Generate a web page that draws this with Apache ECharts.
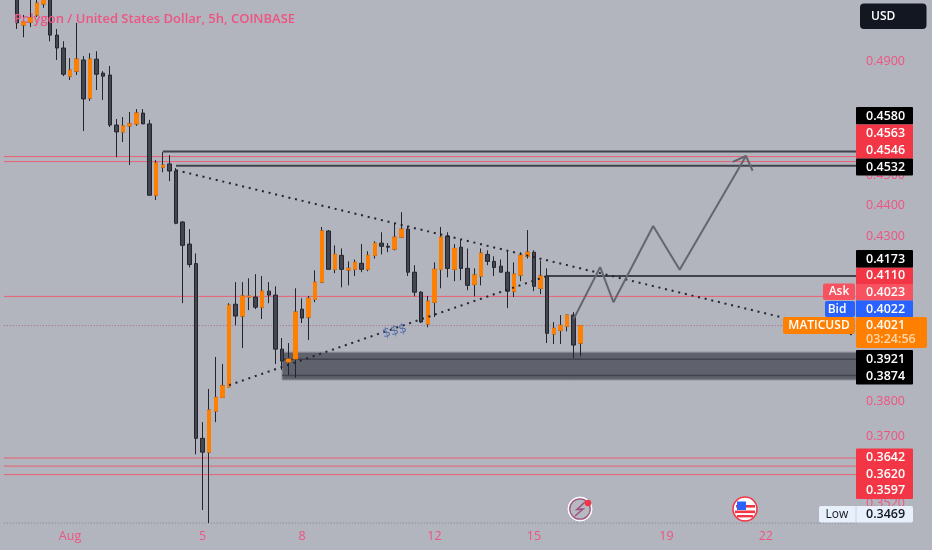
<!DOCTYPE html>
<html><head><meta charset="utf-8">
<style>html,body{margin:0;padding:0;background:#b2b5be}#c{width:932px;height:550px}</style>
<script src="https://cdn.jsdelivr.net/npm/echarts@6/dist/echarts.min.js"></script>
</head><body><div id="c"></div>
<script>
// each row: open, close, low, high of one 5h candle
const candles = [
[.5180,.5043,.5020,.5200],[.5035,.5046,.4989,.5073],[.5046,.5062,.5027,.5200],[.5073,.5118,.5065,.5180],
[.5115,.5135,.5100,.5180],[.5160,.4997,.4974,.5200],[.4997,.4949,.4905,.5020],[.4949,.4853,.4846,.4974],
[.4846,.4868,.4832,.4912],[.4864,.4908,.4850,.5043],[.4905,.4764,.4651,.4919],[.4767,.4908,.4757,.4930],
[.4908,.4853,.4796,.4937],[.4857,.4846,.4760,.4864],[.4850,.4672,.4665,.4883],[.4672,.4648,.4561,.4693],
[.4648,.4669,.4613,.4700],[.4669,.4676,.4534,.4718],[.4676,.4714,.4669,.4728],[.4714,.4676,.4676,.4728],
[.4676,.4433,.4433,.4690],[.4433,.4541,.4417,.4551],[.4527,.4534,.4510,.4578],[.4538,.4514,.4480,.4568],
[.4514,.4341,.4338,.4524],[.4345,.4270,.4089,.4348],[.4274,.4209,.4200,.4322],[.4212,.3696,.3652,.4244],
[.3696,.3658,.3503,.3741],[.3658,.3775,.3469,.3835],[.3772,.3811,.3741,.3928],[.3811,.3844,.3811,.3907],
[.3841,.4083,.3841,.4089],[.4086,.4050,.4022,.4154],[.4050,.4111,.3954,.4154],[.4108,.4111,.4068,.4166],
[.4108,.4077,.4071,.4179],[.4077,.4126,.4041,.4173],[.4126,.4114,.4089,.4154],[.4114,.3951,.3907,.4141],
[.3951,.3916,.3890,.3984],[.3913,.3922,.3875,.3969],[.3922,.4062,.3867,.4135],[.4071,.4044,.4029,.4104],
[.4047,.4104,.3978,.4111],[.4101,.4154,.4092,.4191],[.4154,.4316,.4151,.4329],[.4316,.4194,.4194,.4319],
[.4194,.4241,.4182,.4270],[.4238,.4194,.4138,.4260],[.4192,.4197,.4144,.4219],[.4194,.4216,.4173,.4225],
[.4213,.4194,.4185,.4274],[.4194,.4238,.4188,.4251],[.4238,.4277,.4228,.4283],[.4277,.4267,.4241,.4312],
[.4267,.4264,.4248,.4277],[.4258,.4296,.4254,.4341],[.4296,.4322,.4293,.4377],[.4322,.4185,.4173,.4332],
[.4185,.4123,.4110,.4207],[.4123,.4032,.4029,.4126],[.4026,.4095,.4016,.4111],[.4092,.4194,.4047,.4216],
[.4194,.4296,.4135,.4329],[.4300,.4197,.4169,.4312],[.4194,.4260,.4157,.4274],[.4264,.4197,.4160,.4287],
[.4197,.4144,.4129,.4260],[.4147,.4176,.4110,.4197],[.4173,.4245,.4144,.4260],[.4241,.4219,.4207,.4254],
[.4219,.4200,.4173,.4235],[.4204,.4185,.4185,.4225],[.4185,.4126,.4074,.4254],[.4126,.4179,.4108,.4216],
[.4176,.4238,.4157,.4248],[.4235,.4248,.4228,.4319],[.4248,.4141,.4126,.4254],[.4135,.4173,.4117,.4222],
[.4173,.3998,.3969,.4197],[.3996,.4013,.3966,.4032],[.4007,.4022,.3966,.4053],[.4019,.4053,.4004,.4053],
[.4053,.3963,.3925,.4062],[.3969,.4021,.3930,.4021]
];
const leadingSlots = 2, totalSlots = 130;
const dayLabels = {8:'Aug',28:'5',43:'8',63:'12',78:'15',98:'19',113:'22'};
const yTicks = [0.49,0.45,0.44,0.43,0.38,0.37,0.352];
const redLevels = [0.4563,0.4546,0.4110,0.3642,0.3620,0.3597];
const resistanceTop = 0.4580, resistanceBottom = 0.4532, breakLevel = 0.4173;
const zoneEdges = [0.3942,0.3861], zoneLines = [0.3921,0.3874];
const lastPrice = 0.4021, lowPrice = 0.3469;
const upperTrend = [[26,0.4517],[129,0.3990]];
const lowerTrend = [[34,0.3846],[82,0.4173]];
const projection = [[86,0.4041],[90,0.4201],[92,0.4092],[98,0.4332],[102,0.4193],[112,0.4565]];
const arrowHead = [[109.5,0.4545],[112,0.4565],[113,0.4515]];
const priceTags = ['0.4580','0.4563','0.4546','0.4532','0.4173','0.4110','0.4023','0.4022','0.4021','0.3921','0.3874','0.3642','0.3620','0.3597','0.3469'];

const title = 'Polygon / United States Dollar, 5h, COINBASE';
const PINK='#ef5380', RED='#f23645', BLACK='#000000', BG='#b2b5be';
const UI='"Open Sans","Noto Sans",sans-serif';

const categories = Array.from({length:totalSlots},(_,i)=>dayLabels[i-leadingSlots]||'');
const pad = Array(leadingSlots).fill('-');
const allCandles = pad.map(()=>['-','-','-','-']).concat(candles);
const upBodies = pad.map(()=>['-','-','-','-']).concat(candles.map(c=>{
  const [o,cl]=c; return cl>o?[o,cl,o,cl]:['-','-','-','-'];}));

function line(name,data,color,width,type,z){
  return {type:'line',name,data,z,silent:true,symbol:'none',animation:false,
    lineStyle:{color,width,type:type||'solid',cap:'butt'}};
}
const series=[
  {type:'line',name:'zone',z:1,silent:true,symbol:'none',data:[],animation:false,
   markArea:{silent:true,itemStyle:{color:'#5f616c',borderColor:'#8a8c96',borderWidth:1},
     data:[[{xAxis:42,yAxis:zoneEdges[0]},{xAxis:129,yAxis:zoneEdges[1]}]]}},
  ...zoneLines.map((v,i)=>line('zoneLine'+i,[[42,v],[129,v]],'#41434d',1.6,null,2)),
  ...redLevels.map((v,i)=>line('red'+i,[[0,v],[129,v]],'#ec5f72',1,null,2)),
  line('lastPrice',[[0,lastPrice],[129,lastPrice]],'#a8628e',1,[1,2],2),
  line('low',[[0,lowPrice],[129,lowPrice]],'#7c7f88',1,[1,2],2),
  line('resTop',[[24,resistanceTop],[129,resistanceTop]],'#41434b',2,null,3),
  line('resBottom',[[26,resistanceBottom],[129,resistanceBottom]],'#41434b',2,null,3),
  line('break',[[82,breakLevel],[129,breakLevel]],'#41434b',2,null,3),
  {type:'candlestick',name:'wicks',data:allCandles,barWidth:4,z:5,silent:true,animation:false,
   itemStyle:{color:'#434651',color0:'#434651',borderColor:'#23252d',borderColor0:'#23252d',borderWidth:1}},
  {type:'candlestick',name:'up',data:upBodies,barWidth:4,z:6,silent:true,animation:false,
   itemStyle:{color:'#ff7f00',color0:'#ff7f00',borderColor:'#ff7f00',borderColor0:'#ff7f00',borderWidth:1}},
  line('upper',upperTrend,'#23252d',2,[2,4.8],7),
  line('lower',lowerTrend,'#23252d',2,[2,4.8],7),
  line('projection',projection,'#63666f',2,null,7),
  line('arrow',arrowHead,'#63666f',2,null,7),
  {type:'scatter',name:'note',symbolSize:0,z:8,silent:true,animation:false,data:[[59,0.4004]],
   label:{show:true,position:'inside',formatter:'$$$',rotate:14,color:'#3f5ba6',fontSize:13,fontFamily:'"DejaVu Sans"'}}
];

// overlay tags ------------------------------------------------------
const g=[];
function box(x,y,w,h,fill,r){g.push({type:'rect',z:100,silent:true,shape:{x,y,width:w,height:h,r:r||0},style:{fill}});}
function txt(s,x,y,fill,font,align){g.push({type:'text',z:101,silent:true,x,y,style:{text:s,fill,font:font||('600 12.5px '+UI),textAlign:align||'left',textVerticalAlign:'middle'}});}
box(860,3.5,66.5,25.5,'#131722',4);
txt('USD',871,16.5,'#ffffff','600 12px '+UI);
box(856,107,57,17.5,BLACK,1);
box(856,124.5,57,34,RED);
box(856,158.5,57,17,BLACK,1);
box(856,250,57,17.7,BLACK,1);
box(856,267.7,57,16.3,RED);
box(856,284,57,16.5,'#f7525f');
box(823,283.5,32,16.5,'#f7525f',2);
box(856,300.5,57,16.5,'#2962ff');
box(825,301,30,16,'#2962ff',2);
box(856,317,71,31,'#ff7f00',2);
box(783,317,72,17,'#ff7f00',2);
box(856,350,57,34.5,BLACK,1);
box(856,448.5,57,50.5,RED,1);
box(819,506,94,16.5,'#e8f1fb',2);
const tagY=[116,133.5,150,167,259,275.7,292,309.3,325.5,359,376,457.3,474,490.7,514.3];
const tagColor=priceTags.map(t=>'#ffffff'); tagColor[14]='#131722';
priceTags.forEach((t,i)=>txt(t,866,tagY[i],tagColor[i]));
txt('Ask',839,292,'#ffffff','600 12px '+UI,'center');
txt('Bid',837,309.3,'#ffffff','600 12px '+UI,'center');
txt('MATICUSD',819,325.5,'#ffffff','600 12px '+UI,'center');
txt('03:24:56',866,339.3,'#ffd7ac');
txt('Low',837,514.3,'#131722','500 12px '+UI,'center');
g.push({type:'rect',z:101,silent:true,shape:{x:855.5,y:506,width:1,height:16.5},style:{fill:'#c9d3df'}});
// event badges
function circ(cx,cy,r,fill,stroke,lw){g.push({type:'circle',z:50,silent:true,shape:{cx,cy,r},style:{fill,stroke,lineWidth:lw||0}});}
circ(580,509,12,'#f2f2f5','#ffffff',1);
circ(580,509,10.2,'#b6b8c2','#a0567f',1.3);
g.push({type:'polyline',z:51,silent:true,shape:{points:[[585,502],[577,509.5],[583,509],[575,516]]},style:{stroke:'#a0507a',lineWidth:1.6,fill:null}});
circ(588,503,3.2,RED,null,0);
circ(745,509,12,'#ffffff',RED,1.6);
box(736,505,19,2.6,RED);
box(735,510.5,20,2.6,RED);
box(737,515,16,2.4,RED);
box(737,501.5,9,8.5,'#2962ff');

const chart=echarts.init(document.getElementById('c'),null,{renderer:'canvas'});
chart.setOption({
  backgroundColor:BG,animation:false,
  title:{text:title,left:9,top:8,textStyle:{color:PINK,fontSize:13,fontWeight:600,fontFamily:UI}},
  grid:{left:0.43,top:0,width:861.5,height:525,containLabel:false},
  xAxis:{type:'category',data:categories,boundaryGap:true,
    axisLine:{show:false},axisTick:{show:false},splitLine:{show:false},
    axisLabel:{show:true,interval:(i,v)=>v!=='',color:PINK,fontSize:12.5,fontWeight:500,fontFamily:UI,margin:5,hideOverlap:false}},
  yAxis:{type:'log',logBase:10,min:0.5130,max:0.5130,position:'right',scale:true,
    min:0.3464,max:0.5130,
    axisLine:{show:false},axisTick:{show:false},splitLine:{show:false},minorTick:{show:false},
    axisLabel:{show:true,customValues:yTicks,formatter:v=>(+v).toFixed(4),color:PINK,fontSize:12.5,fontFamily:UI,margin:4,showMinLabel:true,showMaxLabel:true,hideOverlap:false}},
  series,
  graphic:{elements:g}
});
</script>
</body></html>
